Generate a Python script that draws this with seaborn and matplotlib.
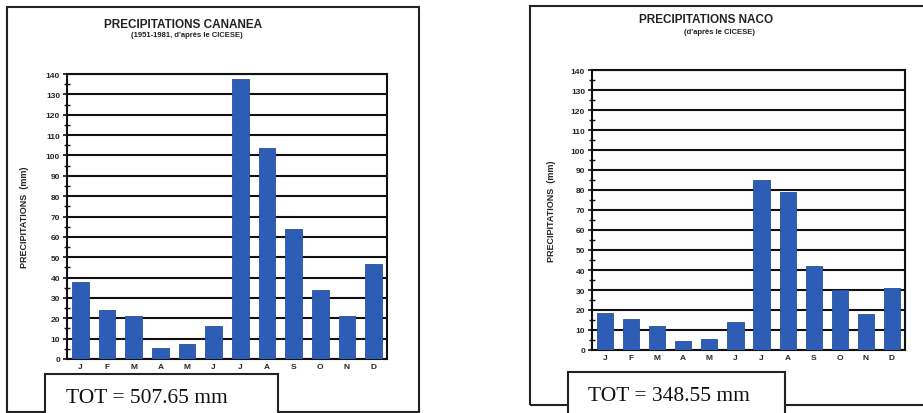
import matplotlib
matplotlib.use("Agg")
import matplotlib.pyplot as plt
import seaborn as sns
import pandas as pd
from matplotlib.patches import Rectangle
from matplotlib.ticker import MultipleLocator

months = ["J", "F", "M", "A", "M", "J", "J", "A", "S", "O", "N", "D"]
cananea = [38, 24, 21, 5.5, 7.5, 16, 137.5, 103.5, 64, 34, 21, 46.5]
naco = [18.5, 15.5, 12, 4.5, 5.5, 14, 85, 79, 42, 30, 18, 31]
titles = ["PRECIPITATIONS CANANEA", "PRECIPITATIONS NACO"]
subtitles = ["(1951-1981, d'après le CICESE)", "(d'après le CICESE)"]
totals = ["TOT = 507.65 mm", "TOT = 348.55 mm"]
ylabel = "PRECIPITATIONS  (mm)"

sns.set_theme(style="white")
plt.rcParams['font.family'] = ['Liberation Sans', 'DejaVu Sans']

W, H = 923, 414
fig = plt.figure(figsize=(W / 100, H / 100), dpi=100)
fig.patch.set_facecolor("white")


def fr(x0, y0, x1, y1):
    return [x0 / W, 1 - y1 / H, (x1 - x0) / W, (y1 - y0) / H]


def rect(x0, y0, x1, y1, lw=1.5, fc="none", z=1):
    r = Rectangle((x0 / W, 1 - y1 / H), (x1 - x0) / W, (y1 - y0) / H,
                  transform=fig.transFigure, fill=(fc != "none"),
                  facecolor=fc, edgecolor="#222222", linewidth=lw, zorder=z)
    fig.patches.append(r)


# outer frames
rect(7, 8, 419, 413)
rect(530, 7, 930, 406)

panels = [
    dict(vals=cananea, ax=(67, 75, 387, 360), title_xy=(183, 25), sub_xy=(187, 36),
         ylab_x=25, box=(45, 375, 278, 418), tot_xy=(66, 399)),
    dict(vals=naco, ax=(592, 71, 905, 351), title_xy=(706, 20), sub_xy=(719, 33),
         ylab_x=551, box=(568, 373, 785, 418), tot_xy=(588, 397)),
]

for i, p in enumerate(panels):
    ax = fig.add_axes(fr(*p["ax"]))
    df = pd.DataFrame({"pos": list(range(12)), "val": p["vals"]})
    sns.barplot(data=df, x="pos", y="val", ax=ax, color="#2d5db5",
                saturation=1, width=0.62, edgecolor="#2a4f9a", linewidth=0.6,
                zorder=3)
    ax.set_xlim(-0.5, 11.5)
    ax.set_ylim(0, 140)
    ax.yaxis.set_major_locator(MultipleLocator(10))
    ax.yaxis.set_minor_locator(MultipleLocator(5))
    ax.set_yticks(range(0, 141, 10))
    ax.set_yticklabels([str(v) for v in range(0, 141, 10)], fontsize=6,
                       fontweight="bold")
    ax.set_xticks(range(12))
    ax.set_xticklabels(months, fontsize=6, fontweight="bold")
    ax.set_xticks([k - 0.5 for k in range(13)], minor=True)
    ax.tick_params(axis="x", which="major", length=0, pad=3)
    ax.tick_params(axis="x", which="minor", length=7, width=1.2,
                   direction="inout", color="#111111")
    ax.tick_params(axis="y", which="major", length=6, width=1.2,
                   direction="inout", color="#111111", pad=2, left=True)
    ax.tick_params(axis="y", which="minor", length=5, width=1.0,
                   direction="inout", color="#111111", left=True)
    ax.grid(axis="y", which="major", color="#111111", linewidth=1.5, zorder=1)
    ax.grid(axis="x", visible=False)
    ax.set_axisbelow(True)
    for s in ax.spines.values():
        s.set_visible(True)
        s.set_color("#111111")
        s.set_linewidth(1.5)
    ax.set_xlabel("")
    ax.set_ylabel("")

    x0, y0, x1, y1 = p["ax"]
    fig.text(p["ylab_x"] / W, 1 - ((y0 + y1) / 2) / H, ylabel, rotation=90,
             ha="center", va="center", fontsize=6.5, fontweight="bold")
    fig.text(p["title_xy"][0] / W, 1 - p["title_xy"][1] / H, titles[i],
             ha="center", va="center", fontsize=8.5, fontweight="bold",
             color="#222222")
    fig.text(p["sub_xy"][0] / W, 1 - p["sub_xy"][1] / H, subtitles[i],
             ha="center", va="center", fontsize=5.5, fontweight="bold",
             color="#222222")
    rect(*p["box"], lw=1.5, fc="white", z=5)
    fig.text(p["tot_xy"][0] / W, 1 - p["tot_xy"][1] / H, totals[i],
             ha="left", va="center", fontsize=15.5, color="#111111",
             family=["Liberation Serif", "DejaVu Serif"], zorder=6)

fig.savefig("out.png", dpi=100)
